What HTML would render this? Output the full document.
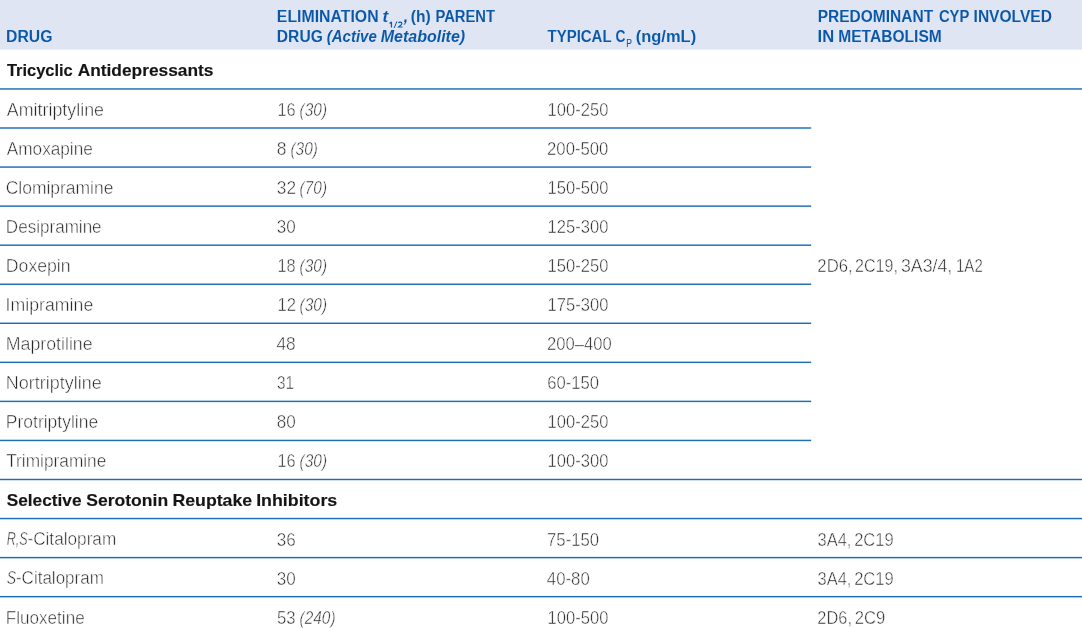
<!DOCTYPE html>
<html><head><meta charset="utf-8"><title>Table</title>
<style>
html,body{margin:0;padding:0;background:#fff;}
body{width:1082px;height:628px;position:relative;overflow:hidden;font-family:"Liberation Sans",sans-serif;}
svg{position:absolute;left:0;top:0;}
#w{position:absolute;left:0;top:0;width:1082px;height:628px;will-change:transform;}

.t{position:absolute;left:0;top:0;white-space:nowrap;line-height:1;transform-origin:0 0;font-family:"Liberation Sans",sans-serif;}
.b{color:#262626;font-weight:normal;-webkit-text-stroke:2.00px #fff;}
.h{color:#0857a8;font-weight:bold;-webkit-text-stroke:0.20px #dfe5f3;}
.g{color:#151515;font-weight:bold;-webkit-text-stroke:0.60px #151515;}
i{font-style:italic;}

</style></head><body>
<svg width="1082" height="628"><rect x="0" y="0" width="1082" height="49.6" fill="#dfe5f3"/>

<rect x="0" y="88.23" width="1082" height="1.45" fill="#1f6db5"/>
<rect x="0" y="478.77" width="1082" height="1.45" fill="#1f6db5"/>
<rect x="0" y="517.83" width="1082" height="1.45" fill="#1f6db5"/>
<rect x="0" y="556.88" width="1082" height="1.45" fill="#1f6db5"/>
<rect x="0" y="595.94" width="1082" height="1.45" fill="#1f6db5"/>
<rect x="0" y="127.28" width="811.2" height="1.45" fill="#1f6db5"/>
<rect x="0" y="166.34" width="811.2" height="1.45" fill="#1f6db5"/>
<rect x="0" y="205.39" width="811.2" height="1.45" fill="#1f6db5"/>
<rect x="0" y="244.45" width="811.2" height="1.45" fill="#1f6db5"/>
<rect x="0" y="283.50" width="811.2" height="1.45" fill="#1f6db5"/>
<rect x="0" y="322.55" width="811.2" height="1.45" fill="#1f6db5"/>
<rect x="0" y="361.61" width="811.2" height="1.45" fill="#1f6db5"/>
<rect x="0" y="400.66" width="811.2" height="1.45" fill="#1f6db5"/>
<rect x="0" y="439.72" width="811.2" height="1.45" fill="#1f6db5"/>
<g fill="none" stroke="#0857a8" stroke-linecap="butt" stroke-linejoin="miter"><path d="M389.6 23.5 L391.5 22.1 M391.45 21.7 V27.55" stroke-width="1.25"/><path d="M394.2 27.9 L396.9 21.4" stroke-width="1.0"/><path d="M398.5 23.1 C398.9 22.2 399.6 22.05 400.3 22.05 C401.3 22.05 401.9 22.6 401.9 23.4 C401.9 24.5 400.6 25.4 398.6 27.0 H402.5" stroke-width="1.15"/></g>
</svg>
<div id="w">
<div class="t h" style="font-size:66.40px;transform:translate(6.05px,27.65px) rotate(0.03deg) scale(0.23777,0.25000);">DRUG</div>
<div class="t h" style="font-size:66.40px;transform:translate(276.85px,7.55px) rotate(0.03deg) scale(0.23852,0.25000);">ELIMINATION</div>
<div class="t h" style="font-size:66.40px;transform:translate(382.37px,7.55px) rotate(0.03deg) scale(0.27620,0.25000);-webkit-text-stroke-width:0.8px;"><i>t</i></div>
<div class="t h" style="font-size:66.40px;transform:translate(403.50px,7.85px) rotate(0.03deg) scale(0.26667,0.25000);-webkit-text-stroke-width:0.8px;"><i>,</i></div>
<div class="t h" style="font-size:66.40px;transform:translate(410.80px,7.55px) rotate(0.03deg) scale(0.23417,0.25000);">(h)</div>
<div class="t h" style="font-size:66.40px;transform:translate(435.41px,7.55px) rotate(0.03deg) scale(0.22235,0.25000);">PARENT</div>
<div class="t h" style="font-size:66.40px;transform:translate(276.86px,27.65px) rotate(0.03deg) scale(0.23510,0.25000);">DRUG</div>
<div class="t h" style="font-size:66.40px;transform:translate(326.85px,27.65px) rotate(0.03deg) scale(0.22523,0.25000);"><i>(Active</i></div>
<div class="t h" style="font-size:66.40px;transform:translate(380.76px,27.65px) rotate(0.03deg) scale(0.24080,0.25000);"><i>Metabolite)</i></div>
<div class="t h" style="font-size:66.40px;transform:translate(547.60px,27.65px) rotate(0.03deg) scale(0.22517,0.25000);">TYPICAL</div>
<div class="t h" style="font-size:66.40px;transform:translate(615.49px,27.65px) rotate(0.03deg) scale(0.20683,0.25000);">C</div>
<div class="t h" style="font-size:46.40px;transform:translate(626.35px,37.65px) rotate(0.03deg) scale(0.18463,0.25000);font-weight:normal;-webkit-text-stroke-width:0.3px;-webkit-text-stroke-color:#0857a8;">P</div>
<div class="t h" style="font-size:66.40px;transform:translate(635.65px,27.65px) rotate(0.03deg) scale(0.24852,0.25000);">(ng/mL)</div>
<div class="t h" style="font-size:66.40px;transform:translate(817.66px,7.55px) rotate(0.03deg) scale(0.23387,0.25000);">PREDOMINANT</div>
<div class="t h" style="font-size:66.40px;transform:translate(938.95px,7.55px) rotate(0.03deg) scale(0.22255,0.25000);">CYP</div>
<div class="t h" style="font-size:66.40px;transform:translate(973.56px,7.55px) rotate(0.03deg) scale(0.23445,0.25000);">INVOLVED</div>
<div class="t h" style="font-size:66.40px;transform:translate(817.60px,27.65px) rotate(0.03deg) scale(0.25000,0.25000);">IN</div>
<div class="t h" style="font-size:66.40px;transform:translate(838.26px,27.65px) rotate(0.03deg) scale(0.23465,0.25000);">METABOLISM</div>
<div class="t g" style="font-size:68.00px;transform:translate(6.90px,61.65px) rotate(0.03deg) scale(0.24170,0.25000);">Tricyclic</div>
<div class="t g" style="font-size:68.00px;transform:translate(77.65px,61.65px) rotate(0.03deg) scale(0.25490,0.25000);">Antidepressants</div>
<div class="t g" style="font-size:68.00px;transform:translate(6.75px,491.15px) rotate(0.03deg) scale(0.25343,0.25000);">Selective</div>
<div class="t g" style="font-size:68.00px;transform:translate(86.24px,491.15px) rotate(0.03deg) scale(0.25815,0.25000);">Serotonin</div>
<div class="t g" style="font-size:68.00px;transform:translate(172.46px,491.15px) rotate(0.03deg) scale(0.26032,0.25000);">Reuptake</div>
<div class="t g" style="font-size:68.00px;transform:translate(256.15px,491.15px) rotate(0.03deg) scale(0.26185,0.25000);">Inhibitors</div>
<div class="t b" style="font-size:70.80px;transform:translate(6.80px,100.75px) rotate(0.03deg) scale(0.25210,0.25000);">Amitriptyline</div>
<div class="t b" style="font-size:70.80px;transform:translate(6.81px,139.83px) rotate(0.03deg) scale(0.24283,0.25000);">Amoxapine</div>
<div class="t b" style="font-size:70.80px;transform:translate(5.71px,178.91px) rotate(0.03deg) scale(0.24663,0.25000);">Clomipramine</div>
<div class="t b" style="font-size:70.80px;transform:translate(5.85px,217.99px) rotate(0.03deg) scale(0.24097,0.25000);">Desipramine</div>
<div class="t b" style="font-size:70.80px;transform:translate(5.80px,257.07px) rotate(0.03deg) scale(0.24960,0.25000);">Doxepin</div>
<div class="t b" style="font-size:70.80px;transform:translate(5.55px,296.15px) rotate(0.03deg) scale(0.25045,0.25000);">Imipramine</div>
<div class="t b" style="font-size:70.80px;transform:translate(5.80px,335.23px) rotate(0.03deg) scale(0.25060,0.25000);">Maprotiline</div>
<div class="t b" style="font-size:70.80px;transform:translate(5.78px,374.31px) rotate(0.03deg) scale(0.25407,0.25000);">Nortriptyline</div>
<div class="t b" style="font-size:70.80px;transform:translate(5.82px,413.39px) rotate(0.03deg) scale(0.24698,0.25000);">Protriptyline</div>
<div class="t b" style="font-size:70.80px;transform:translate(6.21px,452.47px) rotate(0.03deg) scale(0.24395,0.25000);">Trimipramine</div>
<div class="t b" style="font-size:70.80px;transform:translate(5.85px,608.79px) rotate(0.03deg) scale(0.24133,0.25000);">Fluoxetine</div>
<div class="t b" style="font-size:70.80px;transform:translate(6.77px,530.63px) rotate(0.03deg) scale(0.17788,0.25000);"><i>R,S</i></div>
<div class="t b" style="font-size:70.80px;transform:translate(27.43px,530.63px) rotate(0.03deg) scale(0.24270,0.25000);">-Citalopram</div>
<div class="t b" style="font-size:70.80px;transform:translate(6.71px,569.71px) rotate(0.03deg) scale(0.19767,0.25000);"><i>S</i></div>
<div class="t b" style="font-size:70.80px;transform:translate(15.94px,569.71px) rotate(0.03deg) scale(0.24045,0.25000);">-Citalopram</div>
<div class="t b" style="font-size:70.80px;transform:translate(276.84px,218.19px) rotate(0.03deg) scale(0.24085,0.25000);">30</div>
<div class="t b" style="font-size:70.80px;transform:translate(276.84px,530.83px) rotate(0.03deg) scale(0.24085,0.25000);">36</div>
<div class="t b" style="font-size:70.80px;transform:translate(276.84px,569.91px) rotate(0.03deg) scale(0.24085,0.25000);">30</div>
<div class="t b" style="font-size:70.80px;transform:translate(276.82px,179.11px) rotate(0.03deg) scale(0.24427,0.25000);">32</div>
<div class="t b" style="font-size:70.80px;transform:translate(276.41px,335.43px) rotate(0.03deg) scale(0.24520,0.25000);">48</div>
<div class="t b" style="font-size:70.80px;transform:translate(276.73px,413.59px) rotate(0.03deg) scale(0.24225,0.25000);">80</div>
<div class="t b" style="font-size:70.80px;transform:translate(276.94px,374.51px) rotate(0.03deg) scale(0.21573,0.25000);">31</div>
<div class="t b" style="font-size:70.80px;transform:translate(277.41px,100.95px) rotate(0.03deg) scale(0.23187,0.25000);">16</div>
<div class="t b" style="font-size:70.80px;transform:translate(277.41px,257.27px) rotate(0.03deg) scale(0.23187,0.25000);">18</div>
<div class="t b" style="font-size:70.80px;transform:translate(277.39px,296.35px) rotate(0.03deg) scale(0.23530,0.25000);">12</div>
<div class="t b" style="font-size:70.80px;transform:translate(277.41px,452.67px) rotate(0.03deg) scale(0.23187,0.25000);">16</div>
<div class="t b" style="font-size:70.80px;transform:translate(276.71px,140.03px) rotate(0.03deg) scale(0.24688,0.25000);">8</div>
<div class="t b" style="font-size:70.80px;transform:translate(277.05px,608.99px) rotate(0.03deg) scale(0.23663,0.25000);">53</div>
<div class="t b" style="font-size:70.80px;transform:translate(299.63px,100.95px) rotate(0.03deg) scale(0.21795,0.25000);"><i>(30)</i></div>
<div class="t b" style="font-size:70.80px;transform:translate(299.63px,179.11px) rotate(0.03deg) scale(0.21795,0.25000);"><i>(70)</i></div>
<div class="t b" style="font-size:70.80px;transform:translate(299.63px,257.27px) rotate(0.03deg) scale(0.21795,0.25000);"><i>(30)</i></div>
<div class="t b" style="font-size:70.80px;transform:translate(299.63px,296.35px) rotate(0.03deg) scale(0.21795,0.25000);"><i>(30)</i></div>
<div class="t b" style="font-size:70.80px;transform:translate(299.63px,452.67px) rotate(0.03deg) scale(0.21795,0.25000);"><i>(30)</i></div>
<div class="t b" style="font-size:70.80px;transform:translate(290.43px,140.03px) rotate(0.03deg) scale(0.21795,0.25000);"><i>(30)</i></div>
<div class="t b" style="font-size:70.80px;transform:translate(299.63px,608.99px) rotate(0.03deg) scale(0.21730,0.25000);"><i>(240)</i></div>
<div class="t b" style="font-size:70.80px;transform:translate(547.60px,100.95px) rotate(0.03deg) scale(0.23400,0.25000);">100-250</div>
<div class="t b" style="font-size:70.80px;transform:translate(547.06px,140.03px) rotate(0.03deg) scale(0.23610,0.25000);">200-500</div>
<div class="t b" style="font-size:70.80px;transform:translate(547.60px,179.11px) rotate(0.03deg) scale(0.23400,0.25000);">150-500</div>
<div class="t b" style="font-size:70.80px;transform:translate(547.60px,218.19px) rotate(0.03deg) scale(0.23400,0.25000);">125-300</div>
<div class="t b" style="font-size:70.80px;transform:translate(547.60px,257.27px) rotate(0.03deg) scale(0.23400,0.25000);">150-250</div>
<div class="t b" style="font-size:70.80px;transform:translate(547.60px,296.35px) rotate(0.03deg) scale(0.23400,0.25000);">175-300</div>
<div class="t b" style="font-size:70.80px;transform:translate(547.60px,413.59px) rotate(0.03deg) scale(0.23400,0.25000);">100-250</div>
<div class="t b" style="font-size:70.80px;transform:translate(547.60px,452.67px) rotate(0.03deg) scale(0.23400,0.25000);">100-300</div>
<div class="t b" style="font-size:70.80px;transform:translate(547.60px,608.99px) rotate(0.03deg) scale(0.23400,0.25000);">100-500</div>
<div class="t b" style="font-size:70.80px;transform:translate(547.06px,335.43px) rotate(0.03deg) scale(0.23508,0.25000);">200–400</div>
<div class="t b" style="font-size:70.80px;transform:translate(547.16px,374.51px) rotate(0.03deg) scale(0.23567,0.25000);">60-150</div>
<div class="t b" style="font-size:70.80px;transform:translate(547.06px,530.83px) rotate(0.03deg) scale(0.23615,0.25000);">75-150</div>
<div class="t b" style="font-size:70.80px;transform:translate(546.82px,569.91px) rotate(0.03deg) scale(0.23750,0.25000);">40-80</div>
<div class="t b" style="font-size:70.80px;transform:translate(817.36px,257.37px) rotate(0.03deg) scale(0.23622,0.25000);">2D6,</div>
<div class="t b" style="font-size:70.80px;transform:translate(855.09px,257.37px) rotate(0.03deg) scale(0.22698,0.25000);">2C19,</div>
<div class="t b" style="font-size:70.80px;transform:translate(901.00px,257.37px) rotate(0.03deg) scale(0.25052,0.25000);">3A3/4,</div>
<div class="t b" style="font-size:70.80px;transform:translate(956.03px,257.37px) rotate(0.03deg) scale(0.21208,0.25000);">1A2</div>
<div class="t b" style="font-size:70.80px;transform:translate(817.57px,530.93px) rotate(0.03deg) scale(0.23260,0.25000);">3A4,</div>
<div class="t b" style="font-size:70.80px;transform:translate(854.17px,530.93px) rotate(0.03deg) scale(0.23355,0.25000);">2C19</div>
<div class="t b" style="font-size:70.80px;transform:translate(817.57px,570.01px) rotate(0.03deg) scale(0.23260,0.25000);">3A4,</div>
<div class="t b" style="font-size:70.80px;transform:translate(854.17px,570.01px) rotate(0.03deg) scale(0.23355,0.25000);">2C19</div>
<div class="t b" style="font-size:70.80px;transform:translate(817.37px,609.09px) rotate(0.03deg) scale(0.23187,0.25000);">2D6,</div>
<div class="t b" style="font-size:70.80px;transform:translate(854.76px,609.09px) rotate(0.03deg) scale(0.23525,0.25000);">2C9</div>
</div>
</body></html>
